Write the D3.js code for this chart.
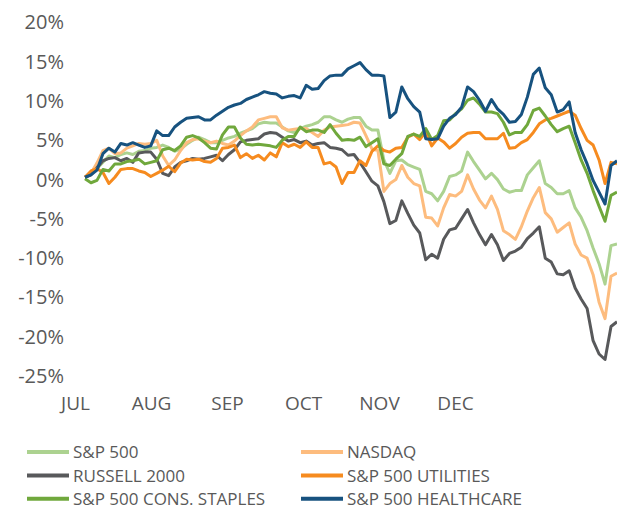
<!DOCTYPE html>
<meta charset="utf-8">
<style type="text/css">
  body { margin: 0; background: #fff; }
  text { font-family: "Open Sans", "Noto Sans", sans-serif; fill: #595959; }
  .line { fill: none; stroke-width: 3; stroke-linejoin: round; }
  .yaxis .domain, .xaxis .domain { display: none; }
</style>
<body>
</body>
<script src="https://d3js.org/d3.v7.min.js"></script>
<script>
  // Six-month cumulative % change, Jul - Dec

  var months = ["JUL", "AUG", "SEP", "OCT", "NOV", "DEC"];
  var yTicks = [20, 15, 10, 5, 0, -5, -10, -15, -20, -25];

  var names = ["S&P 500", "NASDAQ", "RUSSELL 2000", "S&P 500 UTILITIES",
    "S&P 500 CONS. STAPLES", "S&P 500 HEALTHCARE"];
  var colors = ["#acd290", "#fdbc7e", "#58595b", "#f68b1f", "#70a83c", "#17527f"];

  var sp500 = [0.3, 0.7, 1.4, 2.2, 3.0, 2.8, 3.2, 3.4, 3.2, 3.6,
    3.7, 4.0, 4.1, 4.4, 4.1, 3.6, 3.9, 4.5, 5.0, 5.4,
    5.1, 4.7, 4.7, 5.0, 5.3, 5.5, 5.9, 6.2, 6.5, 7.1,
    7.3, 7.2, 7.2, 6.7, 6.2, 6.0, 6.5, 6.8, 7.0, 7.3,
    8.0, 8.0, 7.6, 7.3, 7.7, 7.9, 7.9, 6.8, 6.3, 6.3,
    2.5, 0.8, 2.4, 2.5, 1.9, 1.6, 1.3, -1.5, -1.8, -2.7,
    -1.5, 0.4, 0.6, 1.1, 3.5, 2.3, 1.2, 0.1, 0.8, 0.0,
    -1.2, -1.6, -1.4, -1.4, 0.6, 1.5, 2.4, -0.5, -1.0, -1.8,
    -1.8, -1.4, -3.6, -4.8, -6.5, -8.7, -10.7, -13.3, -8.4, -8.2];

  var nasdaq = [0.3, 0.8, 2.1, 3.7, 4.0, 3.3, 3.4, 4.0, 4.3, 4.6,
    4.5, 4.6, 5.0, 3.0, 1.8, 2.5, 3.7, 4.7, 5.1, 5.2,
    4.9, 4.7, 4.9, 4.6, 4.4, 4.9, 5.6, 6.2, 6.7, 7.6,
    7.8, 8.0, 8.0, 6.6, 6.3, 6.4, 6.5, 6.5, 6.0, 5.5,
    6.3, 6.7, 6.8, 6.9, 7.0, 7.3, 7.2, 5.6, 3.9, 3.7,
    -1.5, -0.5, 0.0, 1.8, 0.3, -0.5, -0.8, -4.8, -4.9, -5.9,
    -3.6, -1.9, -2.1, -1.5, 0.6, -1.2, -2.6, -3.6, -2.1, -3.8,
    -6.5, -7.0, -7.6, -6.0, -4.0, -2.3, -1.0, -4.2, -5.0, -6.7,
    -6.1, -5.5, -8.2, -9.6, -10.0, -12.1, -15.6, -17.7, -12.3, -11.9];

  var russell = [0.3, 0.6, 1.5, 2.4, 2.7, 2.8, 2.4, 2.7, 2.2, 3.4,
    3.5, 3.5, 2.6, 0.8, 0.5, 1.6, 2.2, 2.4, 2.7, 2.6,
    2.7, 2.9, 3.1, 2.4, 3.2, 3.8, 4.8, 5.0, 5.1, 5.2,
    5.8, 6.0, 5.9, 5.4, 4.9, 5.1, 4.7, 4.9, 4.4, 4.6,
    4.7, 4.1, 4.0, 3.8, 3.1, 3.2, 2.2, 1.0, -0.2, -0.8,
    -2.8, -5.6, -5.2, -2.7, -4.3, -5.8, -6.8, -10.2, -9.5, -10.0,
    -7.6, -6.4, -6.2, -5.0, -3.8, -5.5, -7.0, -8.3, -7.0, -8.3,
    -10.3, -9.4, -9.1, -8.6, -7.5, -6.8, -6.0, -10.0, -10.5, -12.0,
    -12.1, -11.6, -13.8, -15.2, -16.4, -20.5, -22.2, -22.9, -18.7, -18.1];

  var utilities = [0.3, 1.1, 1.4, 0.9, -0.5, 0.3, 1.3, 1.4, 1.4, 1.1,
    0.9, 0.4, 0.8, 1.2, 1.7, 1.0, 2.1, 2.6, 2.5, 2.6,
    2.3, 2.2, 2.7, 4.0, 4.1, 4.4, 2.8, 3.3, 2.7, 3.1,
    2.5, 3.4, 2.9, 4.7, 4.2, 4.5, 4.1, 4.8, 4.1, 4.1,
    2.0, 2.2, 1.6, -0.5, 0.9, 0.9, 2.4, 1.8, 3.6, 4.3,
    3.7, 3.5, 4.0, 4.1, 5.4, 5.8, 5.1, 6.1, 4.3, 5.3,
    4.8, 4.0, 4.6, 5.4, 5.9, 6.0, 6.0, 5.2, 5.2, 5.2,
    5.9, 4.0, 4.1, 4.7, 5.1, 6.0, 7.1, 7.6, 7.8, 8.1,
    8.4, 8.7, 8.2, 6.5, 5.0, 4.4, 2.5, -0.5, 2.2, 2.0];

  var staples = [0.1, -0.4, -0.1, 1.3, 1.1, 2.0, 2.0, 2.3, 2.4, 2.6,
    2.0, 2.2, 2.4, 3.8, 4.0, 3.7, 4.3, 5.4, 5.6, 5.3,
    4.7, 4.0, 3.9, 5.7, 6.7, 6.7, 5.3, 4.5, 4.4, 4.5,
    4.4, 4.3, 4.1, 5.0, 5.5, 5.5, 6.7, 6.1, 6.3, 6.3,
    6.0, 7.0, 5.9, 5.0, 5.1, 5.0, 5.4, 4.2, 4.7, 5.2,
    2.0, 1.8, 2.6, 3.3, 5.5, 5.8, 5.5, 6.5, 5.1, 5.6,
    7.5, 7.6, 8.4, 9.0, 10.1, 10.4, 9.6, 8.6, 8.6, 8.4,
    7.3, 5.7, 6.0, 6.0, 7.0, 8.8, 9.1, 8.1, 7.0, 6.1,
    6.5, 6.8, 4.7, 2.5, 0.8, -1.4, -3.4, -5.3, -2.0, -1.6];

  var healthcare = [0.3, 0.6, 1.2, 3.3, 4.0, 3.5, 4.6, 4.4, 4.7, 4.4,
    4.1, 4.3, 6.2, 5.6, 5.6, 6.7, 7.3, 7.8, 7.9, 8.0,
    7.6, 7.6, 8.2, 8.7, 9.2, 9.5, 9.7, 10.2, 10.5, 10.8,
    11.2, 11.0, 10.9, 10.4, 10.6, 10.7, 10.4, 12.0, 11.5, 11.6,
    12.6, 13.2, 13.3, 13.3, 14.1, 14.5, 14.9, 14.0, 13.3, 13.3,
    13.2, 7.9, 8.6, 11.8, 10.3, 9.3, 8.6, 5.2, 5.1, 5.2,
    6.8, 7.8, 8.3, 9.2, 11.8, 11.2, 10.1, 8.7, 10.2, 9.0,
    8.3, 7.3, 7.4, 8.3, 10.5, 13.4, 14.2, 11.7, 10.8, 8.6,
    8.9, 9.9, 6.0, 3.8, 2.0, -0.1, -1.6, -3.1, 1.8, 2.4];

  var series = [sp500, nasdaq, russell, utilities, staples, healthcare];

  var width = 617,
    height = 510;

  var svg = d3.select("body").append("svg")
    .attr("width", width)
    .attr("height", height);

  var xScale = d3.scaleLinear()
    .domain([0, sp500.length - 1])
    .range([85, 617]);

  var yScale = d3.scaleLinear()
    .domain([-25, 20])
    .range([376, 22.5]);

  var monthScale = d3.scalePoint()
    .domain(months)
    .range([75, 455]);

  // y axis labels only
  svg.append("g")
    .attr("class", "yaxis")
    .attr("transform", "translate(64,0)")
    .call(d3.axisLeft(yScale).tickValues(yTicks).tickSize(0).tickPadding(0)
      .tickFormat(function(d) { return d + "%"; }))
    .selectAll("text")
    .style("font-size", "20px")
    .attr("fill", "#595959");

  svg.append("g")
    .attr("class", "xaxis")
    .attr("transform", "translate(0,396)")
    .call(d3.axisBottom(monthScale).tickSize(0).tickPadding(0))
    .selectAll("text")
    .style("font-size", "19px")
    .attr("fill", "#595959");

  svg.selectAll(".tick line").remove();

  var line = d3.line()
    .x(function(d, i) { return xScale(i); })
    .y(function(d) { return yScale(d); });

  svg.selectAll(".line")
    .data(series)
    .enter().append("path")
    .attr("class", "line")
    .attr("stroke", function(d, i) { return colors[i]; })
    .attr("d", line);

  // legend, two columns
  var legend = svg.selectAll(".legend")
    .data(names)
    .enter().append("g")
    .attr("class", "legend")
    .attr("transform", function(d, i) {
      return "translate(" + (i % 2 === 0 ? 27 : 301) + "," + (452 + Math.floor(i / 2) * 23.4) + ")";
    });

  legend.append("line")
    .attr("x1", 0)
    .attr("x2", 42)
    .attr("stroke", function(d, i) { return colors[i]; })
    .attr("stroke-width", 4);

  legend.append("text")
    .attr("x", 46)
    .attr("dy", "0.36em")
    .style("font-size", "17px")
    .text(function(d) { return d; });
</script>
